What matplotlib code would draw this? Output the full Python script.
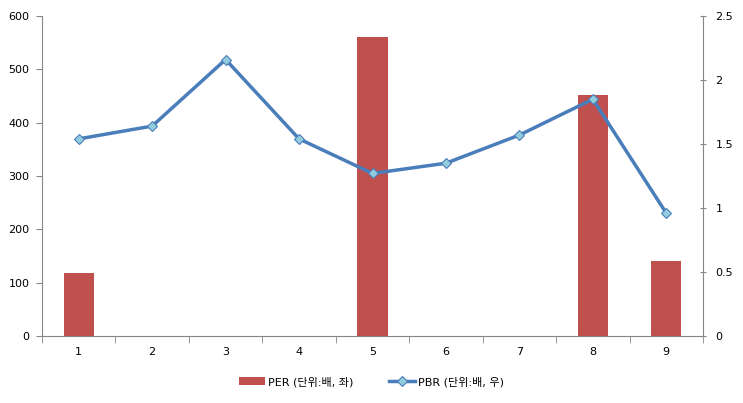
import matplotlib
matplotlib.use("Agg")
import matplotlib.pyplot as plt
from matplotlib.ticker import MultipleLocator, FixedLocator

plt.rcParams['font.family'] = ['DejaVu Sans', 'Noto Sans CJK KR']

categories = ['1', '2', '3', '4', '5', '6', '7', '8', '9']
per_values = [118, 0, 0, 0, 561, 0, 0, 452, 140]
pbr_values = [1.54, 1.64, 2.16, 1.54, 1.27, 1.35, 1.57, 1.85, 0.96]
per_label = 'PER (단위:배, 좌)'
pbr_label = 'PBR (단위:배, 우)'

fig = plt.figure(figsize=(7.43, 4.03), dpi=100)
ax = fig.add_axes([42/743, 1-336/403, (703-42)/743, (336-16)/403])
ax2 = ax.twinx()

x = list(range(len(categories)))
bars = ax.bar(x, per_values, width=0.41, color='#C0504D', label=per_label, zorder=2)
line, = ax2.plot(x, pbr_values, color='#4A7EBB', lw=2.5, marker='D', markersize=5.5,
                 markerfacecolor='#93CDDD', markeredgecolor='#4A7EBB', markeredgewidth=0.8,
                 label=pbr_label, zorder=3)

ax.set_xlim(-0.5, len(categories) - 0.5)
ax.set_ylim(0, 600)
ax2.set_ylim(0, 2.5)
ax.yaxis.set_major_locator(MultipleLocator(100))
ax2.set_yticks([0, 0.5, 1, 1.5, 2, 2.5])
ax2.set_yticklabels(['0', '0.5', '1', '1.5', '2', '2.5'])

ax.set_xticks(x)
ax.set_xticklabels(categories)
ax.xaxis.set_minor_locator(FixedLocator([i - 0.5 for i in range(len(categories) + 1)]))
ax.tick_params(axis='x', which='major', length=0, pad=8, labelsize=8)
ax.tick_params(axis='x', which='minor', length=5, color='#868686', direction='out')
ax.tick_params(axis='y', length=4, color='#868686', labelsize=8, pad=5)
ax2.tick_params(axis='y', length=4, color='#868686', labelsize=8, pad=7, direction='inout')

for a in (ax, ax2):
    a.spines['top'].set_visible(False)
    for s in ('left', 'right', 'bottom'):
        a.spines[s].set_color('#868686')
ax2.spines['bottom'].set_visible(False)
ax.spines['right'].set_visible(False)
ax2.spines['left'].set_visible(False)

fig.legend(handles=[bars, line], labels=[per_label, pbr_label], loc='center',
           bbox_to_anchor=(0.5, 1-382/403), ncol=2, frameon=False, fontsize=8,
           handlelength=2.3, columnspacing=3.2, handletextpad=0.3)

fig.savefig('out.png', dpi=100)
